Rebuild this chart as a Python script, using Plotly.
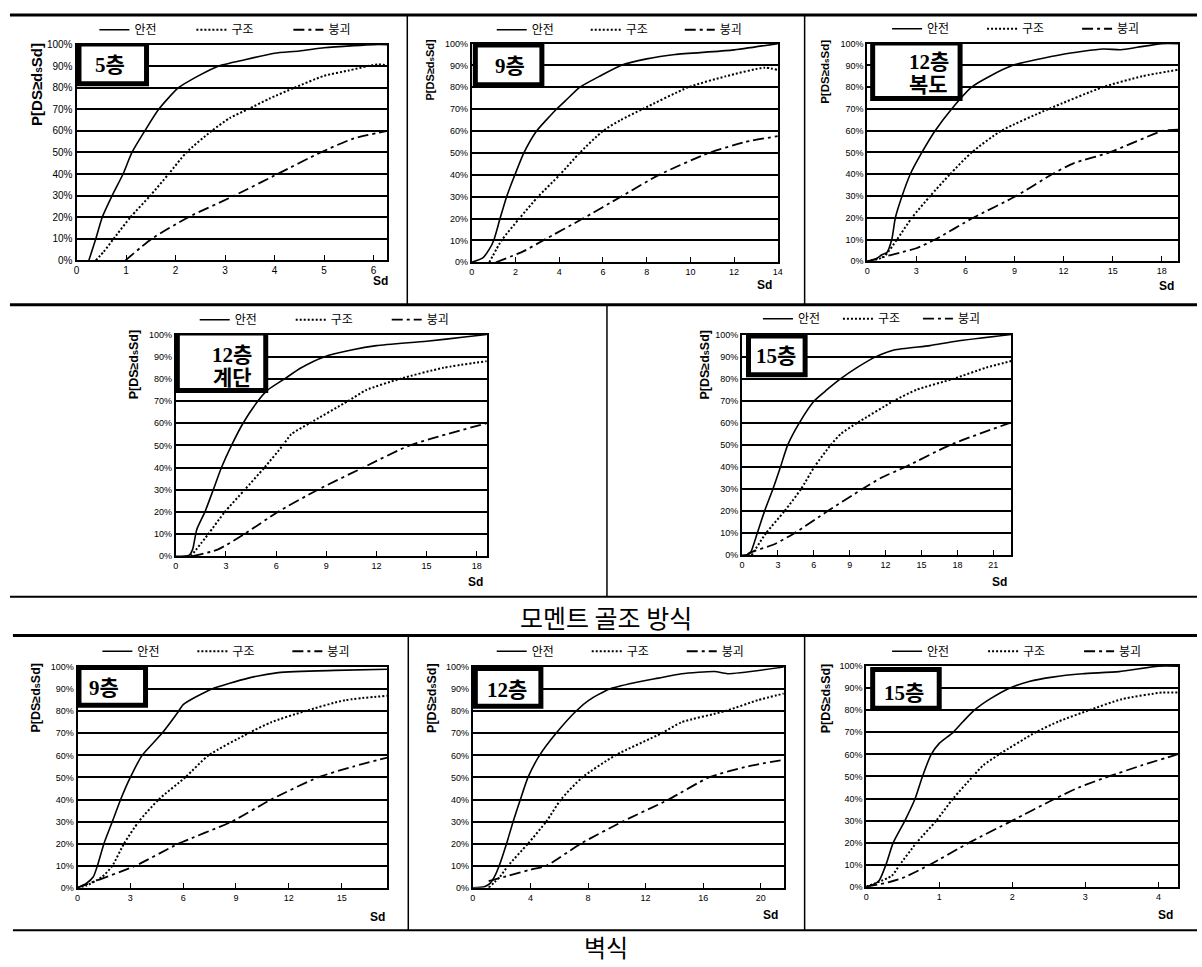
import plotly.graph_objects as go

# ------------------------------------------------------------------ data
# series labels
SERIES_NAMES = ["안전", "구조", "붕괴"]
PANEL_LABELS = ["5층", "9층", "12층<br>복도", "12층<br>계단", "15층", "9층", "12층", "15층"]
GROUP_TITLES = ["모멘트 골조 방식", "벽식"]
Y_TITLE_PARTS = ["P[DS≥d", "s", "Sd]"]   # middle part is drawn smaller (subscript-like)
X_TITLE = "Sd"

# Moment frame, 5 storeys
mf5_safe_x = [0.25, 0.39, 0.52, 0.72, 0.94, 1.12, 1.38, 1.66, 2.06, 2.46, 2.86, 3.4, 4.0, 4.5, 5.0, 5.6, 6.0, 6.28]
mf5_safe_y = [0, 10, 20, 30, 40, 50, 60, 70, 80, 85.5, 90, 93, 96, 97, 98.5, 99.5, 100, 100]
mf5_str_x = [0.39, 0.55, 0.75, 1.09, 1.49, 1.86, 2.22, 2.73, 3.1, 3.46, 3.9, 4.4, 5.0, 5.5, 5.87, 6.1, 6.28]
mf5_str_y = [0, 4, 10, 20, 30, 40, 50, 60, 66, 70, 75, 80, 85.5, 88, 90, 90.8, 90.4]
mf5_col_x = [0.99, 1.52, 2.26, 3.19, 4.06, 4.93, 5.6, 6.28]
mf5_col_y = [0, 10, 20, 30, 40, 50, 56.5, 60]

# Moment frame, 9 storeys
mf9_safe_x = [0, 0.5, 0.8, 1.0, 1.29, 1.59, 1.97, 2.38, 2.96, 3.4, 3.87, 4.4, 4.93, 5.83, 6.82, 8.0, 9.3, 11.9, 14.0]
mf9_safe_y = [0, 2, 6, 10, 20, 30, 40, 50, 60, 65, 70, 75, 80, 85, 90, 93, 95, 97, 100]
mf9_str_x = [0.8, 1.36, 2.17, 3.03, 4.02, 4.93, 5.99, 6.8, 7.8, 9.9, 11.6, 13.4, 14.0]
mf9_str_y = [0, 10, 20, 30, 40, 50, 60, 65, 70, 80, 85, 89, 88]
mf9_col_x = [1.1, 2.35, 3.26, 5.08, 6.82, 8.57, 10.85, 12.5, 14.0]
mf9_col_y = [0, 5, 10, 20, 30, 40, 50, 55, 57.7]

# Moment frame, 12 storeys (corridor)
mf12c_safe_x = [0, 0.5, 0.9, 1.2, 1.5, 1.72, 2.13, 2.63, 3.34, 4.15, 5.16, 6.38, 7.49, 8.9, 11.9, 14.4, 15.5, 16.5, 18.0, 19.0]
mf12c_safe_y = [0, 1, 3, 4, 10, 20, 30, 40, 50, 60, 70, 80, 85, 90, 95, 97.5, 97.2, 98.3, 100, 100]
mf12c_str_x = [0, 1.0, 1.82, 2.73, 3.85, 5.06, 6.38, 8.2, 11.1, 14.4, 16.8, 19.0]
mf12c_str_y = [0, 2, 10, 20, 30, 40, 50, 60, 70, 80, 85, 88]
mf12c_col_x = [0, 1.0, 2.0, 3.0, 4.15, 6.48, 9.1, 11.3, 12.6, 14.8, 18.1, 19.0]
mf12c_col_y = [0, 2, 4, 6, 10, 20, 30, 40, 45, 50, 60, 60.5]

# Moment frame, 12 storeys (stair)
mf12s_safe_x = [0, 0.8, 1.0, 1.25, 1.74, 2.24, 2.73, 3.33, 4.02, 4.91, 5.5, 6.5, 7.5, 8.9, 10.5, 12.0, 15.0, 17.4, 18.6]
mf12s_safe_y = [0, 0.5, 3, 12, 20, 30, 40, 50, 60, 70, 75, 80, 85, 90, 93, 95, 97, 99, 100]
mf12s_str_x = [0.9, 1.94, 2.93, 4.12, 5.3, 6.4, 6.9, 8.0, 10.3, 11.4, 13.4, 16.0, 18.6]
mf12s_str_y = [0, 10, 20, 30, 40, 50, 55, 60, 70, 75, 80, 85, 88]
mf12s_col_x = [1.0, 2.5, 4.1, 6.1, 8.5, 11.2, 14.0, 18.6]
mf12s_col_y = [0, 3, 10, 20, 30, 40, 50, 60]

# Moment frame, 15 storeys
mf15_safe_x = [0, 0.5, 0.7, 1.27, 1.88, 2.58, 3.21, 3.82, 4.79, 6.04, 7.1, 8.25, 9.6, 11.2, 12.7, 15.7, 17.9, 22.5]
mf15_safe_y = [0, 0.3, 1, 10, 20, 30, 40, 50, 60, 70, 75, 80, 85, 90, 93, 95, 97, 100]
mf15_str_x = [0.8, 2.0, 3.55, 4.93, 6.04, 7.42, 8.25, 9.64, 12.7, 14.6, 17.7, 20.4, 22.5]
mf15_str_y = [0, 10, 20, 30, 40, 50, 55, 60, 70, 75, 80, 85, 88]
mf15_col_x = [0.4, 0.6, 2.7, 4.38, 7.15, 10.05, 11.6, 13.65, 17.4, 22.4]
mf15_col_y = [0, 1, 5, 10, 20, 30, 35, 40, 50, 60]

# Wall type, 9 storeys
w9_safe_x = [0, 0.5, 0.9, 1.13, 1.5, 1.98, 2.45, 3.0, 3.67, 4.8, 5.74, 6.0, 7.6, 9.7, 11.4, 14.6, 17.6]
w9_safe_y = [0, 2, 5, 10, 20, 30, 40, 50, 60, 70, 80, 83, 90, 95, 97.5, 98.5, 99]
w9_str_x = [0, 0.5, 1.41, 1.98, 2.64, 3.48, 4.61, 6.12, 7.44, 9.7, 11.0, 12.9, 15.2, 17.6]
w9_str_y = [0, 1, 5, 10, 20, 30, 40, 50, 60, 70, 75, 80, 85, 87]
w9_col_x = [0, 1.0, 3.3, 5.74, 8.76, 11.0, 13.65, 15.7, 17.6]
w9_col_y = [0, 3, 10, 20, 30, 40, 50, 55, 59]

# Wall type, 12 storeys
w12_safe_x = [0, 0.8, 1.2, 1.5, 1.83, 2.34, 2.8, 3.3, 3.83, 4.63, 5.78, 7.16, 8.07, 9.45, 11.3, 12.9, 14.5, 16.8, 17.7, 21.6]
w12_safe_y = [0, 0.5, 2, 5, 10, 20, 30, 40, 50, 60, 70, 80, 85, 90, 93, 95, 97, 98, 97, 100]
w12_str_x = [1.1, 1.88, 2.45, 3.83, 5.1, 6.12, 7.6, 9.9, 13.1, 14.5, 17.5, 19.8, 21.6]
w12_str_y = [0, 5, 10, 20, 30, 40, 50, 60, 70, 75, 80, 85, 88]
w12_col_x = [1.1, 2.5, 4.0, 5.1, 7.5, 10.4, 13.6, 16.4, 19.1, 21.6]
w12_col_y = [3, 5.5, 8.2, 10, 20, 30, 40, 50, 55, 58]

# Wall type, 15 storeys
w15_safe_x = [0, 0.1, 0.18, 0.27, 0.37, 0.53, 0.67, 0.77, 0.89, 1.0, 1.19, 1.33, 1.48, 1.69, 1.96, 2.23, 2.55, 2.96, 3.46, 4.0, 4.27]
w15_safe_y = [0, 1, 3, 10, 20, 30, 40, 50, 60, 65, 70, 75, 80, 85, 90, 93, 95, 96.5, 97.5, 100, 100]
w15_str_x = [0, 0.35, 0.46, 0.69, 0.96, 1.19, 1.46, 1.6, 1.82, 2.32, 2.64, 3.05, 3.5, 4.05, 4.27]
w15_str_y = [0, 5, 10, 20, 30, 40, 50, 55, 60, 70, 75, 80, 85, 88, 88]
w15_col_x = [0, 0.3, 0.5, 0.87, 1.41, 2.0, 2.59, 2.91, 3.32, 3.77, 4.26]
w15_col_y = [0, 2, 4, 10, 20, 30, 40, 45, 50, 55, 60]

Y_TICKS = [0, 10, 20, 30, 40, 50, 60, 70, 80, 90, 100]
Y_TICK_TEXT = [f"{v}%" for v in Y_TICKS]

PANEL_SERIES = [
    [(mf5_safe_x, mf5_safe_y), (mf5_str_x, mf5_str_y), (mf5_col_x, mf5_col_y)],
    [(mf9_safe_x, mf9_safe_y), (mf9_str_x, mf9_str_y), (mf9_col_x, mf9_col_y)],
    [(mf12c_safe_x, mf12c_safe_y), (mf12c_str_x, mf12c_str_y), (mf12c_col_x, mf12c_col_y)],
    [(mf12s_safe_x, mf12s_safe_y), (mf12s_str_x, mf12s_str_y), (mf12s_col_x, mf12s_col_y)],
    [(mf15_safe_x, mf15_safe_y), (mf15_str_x, mf15_str_y), (mf15_col_x, mf15_col_y)],
    [(w9_safe_x, w9_safe_y), (w9_str_x, w9_str_y), (w9_col_x, w9_col_y)],
    [(w12_safe_x, w12_safe_y), (w12_str_x, w12_str_y), (w12_col_x, w12_col_y)],
    [(w15_safe_x, w15_safe_y), (w15_str_x, w15_str_y), (w15_col_x, w15_col_y)],
]

# ------------------------------------------------------------------ layout geometry (pixels)
W, H = 1202, 967


def fx(px):
    return px / W


def fy(py):
    return 1 - py / H


GEOM = [
    dict(L=74, R=387, T=40, B=258, xmax=6.28, dtick=1, leg=(97, 25), ew=52, box=(74, 37, 147, 82), lab=(108, 61), yt=(33, 80), ytf=15, sd=(380, 279), tf=10),
    dict(L=472, R=780, T=39, B=260, xmax=14.0, dtick=2, leg=(497, 25), ew=49, box=(473, 38, 545, 83), lab=(510, 62), yt=(430, 65), ytf=11, sd=(767, 283), tf=9),
    dict(L=870, R=1183, T=39, B=259, xmax=19.0, dtick=3, leg=(895, 24), ew=50, box=(873, 36, 966, 97), lab=(932, 69), yt=(828, 67), ytf=11.5, sd=(1171, 284), tf=9),
    dict(L=174, R=487, T=333, B=557, xmax=18.6, dtick=3, leg=(198, 318), ew=51, box=(173, 329, 267, 392), lab=(231, 365), yt=(132, 363), ytf=12.5, sd=(476, 583), tf=9),
    dict(L=744, R=1015, T=333, B=556, xmax=22.5, dtick=3, leg=(765, 317), ew=35, box=(748, 332, 810, 376), lab=(778, 355), yt=(707, 363), ytf=12.5, sd=(1003, 583), tf=9),
    dict(L=75, R=387, T=669, B=892, xmax=17.6, dtick=3, leg=(100, 653), ew=50, box=(74, 667, 146, 710), lab=(102, 690), yt=(33, 700), ytf=12.5, sd=(377, 922), tf=9),
    dict(L=473, R=786, T=669, B=892, xmax=21.6, dtick=4, leg=(497, 653), ew=50, box=(473, 668, 544, 711), lab=(507, 692), yt=(432, 700), ytf=12.5, sd=(773, 920), tf=9),
    dict(L=869, R=1183, T=668, B=891, xmax=4.27, dtick=1, leg=(895, 653), ew=51, box=(873, 669, 945, 713), lab=(907, 695), yt=(828, 700), ytf=12.5, sd=(1170, 920), tf=9),
]
LABEL_LINE_PITCH = 23
BOX_BORDER = 5

LINE_STYLES = [
    dict(color="black", width=1.6, dash="solid"),
    dict(color="black", width=2.0, dash="2px,2px"),
    dict(color="black", width=1.8, dash="11px,4px,3px,4px"),
]

KR = "Noto Sans CJK KR, sans-serif"
LAT = "Liberation Sans, Arial, sans-serif"
SERIF = "Liberation Serif, Noto Sans CJK KR, serif"

fig = go.Figure()
layout = dict(
    width=W, height=H,
    margin=dict(l=0, r=0, t=0, b=0),
    paper_bgcolor="white", plot_bgcolor="white",
    showlegend=True,
)
annotations = []
shapes = []

for i, (g, series) in enumerate(zip(GEOM, PANEL_SERIES)):
    n = "" if i == 0 else str(i + 1)
    xa, ya, lg = "x" + n, "y" + n, "legend" + n
    for (xs, ys), name, st in zip(series, SERIES_NAMES, LINE_STYLES):
        fig.add_trace(go.Scatter(
            x=xs, y=ys, name=name, mode="lines",
            line=dict(color=st["color"], width=st["width"], dash=st["dash"], shape="spline", smoothing=0.6),
            xaxis=xa, yaxis=ya, legend=lg, hoverinfo="skip",
        ))
    xticks = []
    v = 0
    while v <= g["xmax"] + 1e-9:
        xticks.append(v)
        v += g["dtick"]
    layout["xaxis" + n] = dict(
        domain=[fx(g["L"]), fx(g["R"])], anchor=ya, range=[0, g["xmax"]],
        tickvals=xticks, ticks="inside", ticklen=5, tickwidth=1, tickcolor="black",
        showgrid=False, zeroline=False, showline=True, mirror=True,
        linecolor="black", linewidth=2,
        tickfont=dict(family=LAT, size=g["tf"], color="black"), fixedrange=True,
    )
    layout["yaxis" + n] = dict(
        domain=[fy(g["B"]), fy(g["T"])], anchor=xa, range=[0, 100],
        tickvals=Y_TICKS, ticktext=Y_TICK_TEXT, ticks="",
        showgrid=True, gridcolor="black", gridwidth=2, zeroline=False,
        showline=True, mirror=True, linecolor="black", linewidth=2,
        tickfont=dict(family=LAT, size=g["tf"], color="black"), fixedrange=True,
    )
    lx, ly = g["leg"]
    layout[lg] = dict(
        orientation="h", x=fx(lx - 5), y=fy(ly), xanchor="left", yanchor="middle",
        entrywidth=g["ew"], entrywidthmode="pixels", itemwidth=30,
        font=dict(family=KR, size=12, color="black"), bgcolor="rgba(0,0,0,0)",
        borderwidth=0, tracegroupgap=0, itemclick=False, itemdoubleclick=False,
    )
    # label box: white box with thick frame, between gridlines and curves
    bl, bt, br, bb = g["box"]
    hb = BOX_BORDER / 2
    sx = g["xmax"] / (g["R"] - g["L"])
    sy = 100 / (g["B"] - g["T"])
    shapes.append(dict(
        type="rect", xref=xa, yref=ya,
        x0=(bl + hb - g["L"]) * sx, x1=(br - hb - g["L"]) * sx,
        y0=(g["B"] - (bb - hb)) * sy, y1=(g["B"] - (bt + hb)) * sy,
        fillcolor="white", line=dict(color="black", width=BOX_BORDER), layer="between",
    ))
    lines = PANEL_LABELS[i].split("<br>")
    for k, txt in enumerate(lines):
        cy = g["lab"][1] + (k - (len(lines) - 1) / 2) * LABEL_LINE_PITCH
        annotations.append(dict(
            text="<b>" + txt + "</b>", xref="paper", yref="paper",
            x=fx(g["lab"][0]), y=fy(cy), xanchor="center", yanchor="middle",
            showarrow=False, font=dict(family=SERIF, size=21, color="black"),
        ))
    small = round(g["ytf"] * 0.7)
    ytxt = (Y_TITLE_PARTS[0] + f"<span style='font-size:{small}px'>" + Y_TITLE_PARTS[1]
            + "</span>" + Y_TITLE_PARTS[2])
    annotations.append(dict(
        text="<b>" + ytxt + "</b>", xref="paper", yref="paper", x=fx(g["yt"][0]), y=fy(g["yt"][1]),
        xanchor="center", yanchor="middle", textangle=-90, showarrow=False,
        font=dict(family=LAT, size=g["ytf"], color="black"),
    ))
    annotations.append(dict(
        text="<b>" + X_TITLE + "</b>", xref="paper", yref="paper", x=fx(g["sd"][0]), y=fy(g["sd"][1]),
        xanchor="center", yanchor="middle", showarrow=False,
        font=dict(family=LAT, size=12, color="black"),
    ))

# group titles
annotations.append(dict(text=GROUP_TITLES[0], xref="paper", yref="paper", x=fx(607), y=fy(618),
                        xanchor="center", yanchor="middle", showarrow=False,
                        font=dict(family=KR, size=25, color="black")))
annotations.append(dict(text=GROUP_TITLES[1], xref="paper", yref="paper", x=fx(607), y=fy(951),
                        xanchor="center", yanchor="middle", showarrow=False,
                        font=dict(family=KR, size=24, color="black")))

# frame / separator lines
SEPARATORS = [
    (7, 10, 1202, 10, 3), (407, 10, 407, 303, 1.5), (807, 10, 807, 303, 1.5),
    (7, 303, 1202, 303, 3), (608, 303, 608, 598, 1.5), (7, 598, 1202, 598, 2),
    (10, 637, 1202, 637, 3), (408, 637, 408, 935, 1.5), (807, 637, 807, 935, 1.5),
    (10, 935, 1202, 935, 2),
]
for x0, y0, x1, y1, w in SEPARATORS:
    shapes.append(dict(type="line", xref="paper", yref="paper",
                       x0=fx(x0), y0=fy(y0), x1=fx(x1), y1=fy(y1),
                       line=dict(color="black", width=w), layer="above"))

layout["annotations"] = annotations
layout["shapes"] = shapes
fig.update_layout(**layout)

fig.write_html("out.html", config={"displayModeBar": False, "staticPlot": True},
               post_script="document.body.style.margin='0';")
